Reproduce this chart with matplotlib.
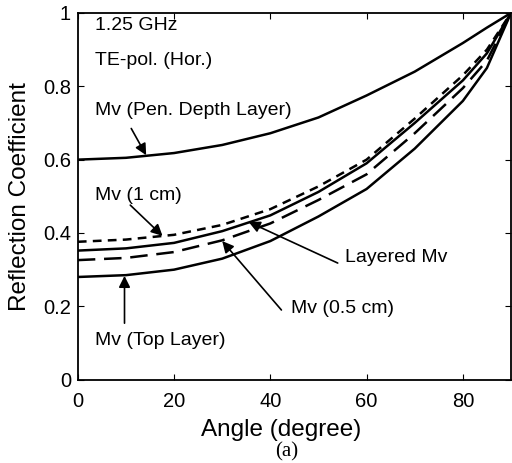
import numpy as np
import matplotlib.pyplot as plt

plt.rcParams['font.family'] = ['Liberation Sans', 'DejaVu Sans']

# incidence angle (degree)
angle = [0, 10, 20, 30, 40, 50, 60, 70, 80, 85, 90]

# reflection coefficient curves
pen_depth = [0.600, 0.605, 0.618, 0.640, 0.672, 0.715, 0.775, 0.840, 0.918, 0.960, 1.0]
mv_1cm    = [0.376, 0.382, 0.395, 0.422, 0.465, 0.527, 0.600, 0.712, 0.830, 0.900, 1.0]
layered   = [0.352, 0.358, 0.373, 0.405, 0.448, 0.512, 0.590, 0.700, 0.816, 0.890, 1.0]
mv_05cm   = [0.326, 0.332, 0.348, 0.380, 0.426, 0.490, 0.560, 0.672, 0.795, 0.870, 1.0]
top_layer = [0.280, 0.285, 0.300, 0.330, 0.378, 0.445, 0.520, 0.630, 0.760, 0.850, 1.0]

fig = plt.figure(figsize=(5.12, 4.63), dpi=100)
ax = fig.add_axes([0.152, 0.180, 0.846, 0.792])

ax.plot(angle, pen_depth, color='black', lw=1.8)
ax.plot(angle, mv_1cm, color='black', lw=1.8, dashes=(3.5, 2.5))
ax.plot(angle, layered, color='black', lw=1.8)
ax.plot(angle, mv_05cm, color='black', lw=1.8, dashes=(7, 3.5))
ax.plot(angle, top_layer, color='black', lw=1.8)

ax.set_xlim(0, 90)
ax.set_ylim(0, 1)
ax.set_xticks([0, 20, 40, 60, 80])
ax.set_yticks([0, 0.2, 0.4, 0.6, 0.8, 1])
ax.set_yticklabels(['0', '0.2', '0.4', '0.6', '0.8', '1'])
ax.tick_params(direction='in', top=True, right=True, labelsize=14.5, length=4)
ax.tick_params(axis='x', pad=9)
ax.tick_params(axis='y', pad=5)
for s in ax.spines.values():
    s.set_linewidth(1.3)

ax.set_xlabel('Angle (degree)', fontsize=17.5)
ax.set_ylabel('Reflection Coefficient', fontsize=17.5)
ax.xaxis.set_label_coords(0.47, -0.108)
ax.yaxis.set_label_coords(-0.108, 0.5)

fs = 14
ax.text(3.5, 0.967, '1.25 GHz', fontsize=fs, va='center')
ax.text(3.5, 0.87, 'TE-pol. (Hor.)', fontsize=fs, va='center')

arrow = dict(arrowstyle='-|>', color='black', lw=1.2, mutation_scale=17, shrinkA=0, shrinkB=0)
ax.text(3.5, 0.735, 'Mv (Pen. Depth Layer)', fontsize=fs, va='center')
ax.annotate('', xy=(14.2, 0.612), xytext=(11.1, 0.685), arrowprops=arrow)

ax.text(3.5, 0.503, 'Mv (1 cm)', fontsize=fs, va='center')
ax.annotate('', xy=(17.6, 0.392), xytext=(10.9, 0.476), arrowprops=arrow)

ax.text(55.5, 0.332, 'Layered Mv', fontsize=fs, va='center')
ax.annotate('', xy=(35.5, 0.43), xytext=(54.0, 0.318), arrowprops=arrow)

ax.text(44.3, 0.195, 'Mv (0.5 cm)', fontsize=fs, va='center')
ax.annotate('', xy=(30.0, 0.378), xytext=(42.3, 0.19), arrowprops=arrow)

ax.text(3.5, 0.108, 'Mv (Top Layer)', fontsize=fs, va='center')
ax.annotate('', xy=(9.7, 0.283), xytext=(9.7, 0.154), arrowprops=arrow)

fig.text(0.559, 0.025, '(a)', fontsize=15, family='Liberation Serif', ha='center', va='center')

fig.savefig('out.png', dpi=100)
